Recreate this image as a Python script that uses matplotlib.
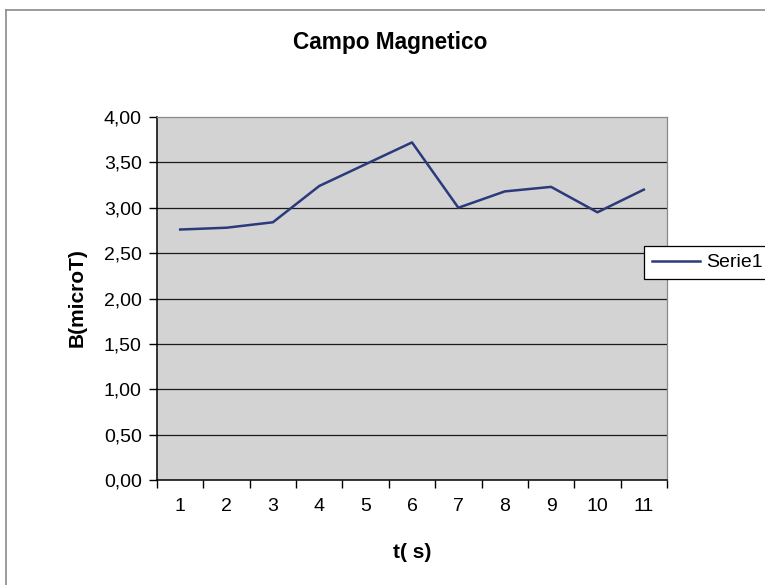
import matplotlib
matplotlib.use("Agg")
import matplotlib.pyplot as plt
from matplotlib.lines import Line2D

plt.rcParams["font.family"] = ["Liberation Sans", "DejaVu Sans"]

# data
t_labels = ["1", "2", "3", "4", "5", "6", "7", "8", "9", "10", "11"]
b_values = [2.76, 2.78, 2.84, 3.24, 3.48, 3.72, 3.00, 3.18, 3.23, 2.95, 3.20]
y_ticks = [0.0, 0.5, 1.0, 1.5, 2.0, 2.5, 3.0, 3.5, 4.0]

W, H = 765, 585
fig = plt.figure(figsize=(W / 100, H / 100), dpi=100, facecolor="white")
ax = fig.add_axes([157 / W, 1 - 480 / H, 510 / W, 363 / H])
ax.set_facecolor("#D3D3D3")

x = list(range(1, len(t_labels) + 1))
ax.plot(x, b_values, color="#2A3A7A", lw=1.8, label="Serie1", zorder=3)

# horizontal gridlines (top one is the plot border)
for yv in y_ticks[1:-1]:
    ax.axhline(yv, color="#1A1A1A", lw=0.9, zorder=1)

ax.set_xlim(0.5, len(t_labels) + 0.5)
ax.set_ylim(y_ticks[0], y_ticks[-1])
ax.set_yticks(y_ticks)
ax.set_yticklabels([f"{v:.2f}".replace(".", ",") for v in y_ticks])
ax.set_xticks(x)
ax.set_xticklabels(t_labels)
ax.set_xticks([v + 0.5 for v in range(len(t_labels) + 1)], minor=True)
ax.tick_params(axis="x", which="major", length=0, pad=13, labelsize=14)
ax.tick_params(axis="x", which="minor", length=6, width=1, direction="out", color="black")
ax.tick_params(axis="y", length=6, width=1, direction="out", pad=5, labelsize=14)

for s in ("left", "bottom"):
    ax.spines[s].set_color("black"); ax.spines[s].set_linewidth(1.1)
for s in ("top", "right"):
    ax.spines[s].set_color("#8A8A8A"); ax.spines[s].set_linewidth(0.9)

fig.text(390 / W, 1 - 42 / H, "Campo Magnetico", ha="center", va="center",
         fontsize=16.3, fontweight="bold")
fig.text(77 / W, 1 - 298 / H, "B(microT)", ha="center", va="center",
         rotation=90, fontsize=15, fontweight="bold")
fig.text(412 / W, 1 - 553 / H, "t( s)", ha="center", va="center",
         fontsize=15, fontweight="bold")

leg = fig.legend(loc="upper left", bbox_to_anchor=(644 / W, 1 - 246 / H),
                 borderaxespad=0, fontsize=14, handlelength=2.5, handletextpad=0.3,
                 borderpad=0.4, fancybox=False, framealpha=1)
leg.get_frame().set_edgecolor("black")
leg.get_frame().set_linewidth(0.9)

# outer chart frame (cut off at right/bottom in the scan)
fig.add_artist(Line2D([6 / W, 6 / W], [0, 1 - 10 / H], color="#8A8A8A", lw=1.2))
fig.add_artist(Line2D([6 / W, 1], [1 - 10 / H, 1 - 10 / H], color="#8A8A8A", lw=1.2))

fig.savefig("out.png", dpi=100, facecolor="white")
